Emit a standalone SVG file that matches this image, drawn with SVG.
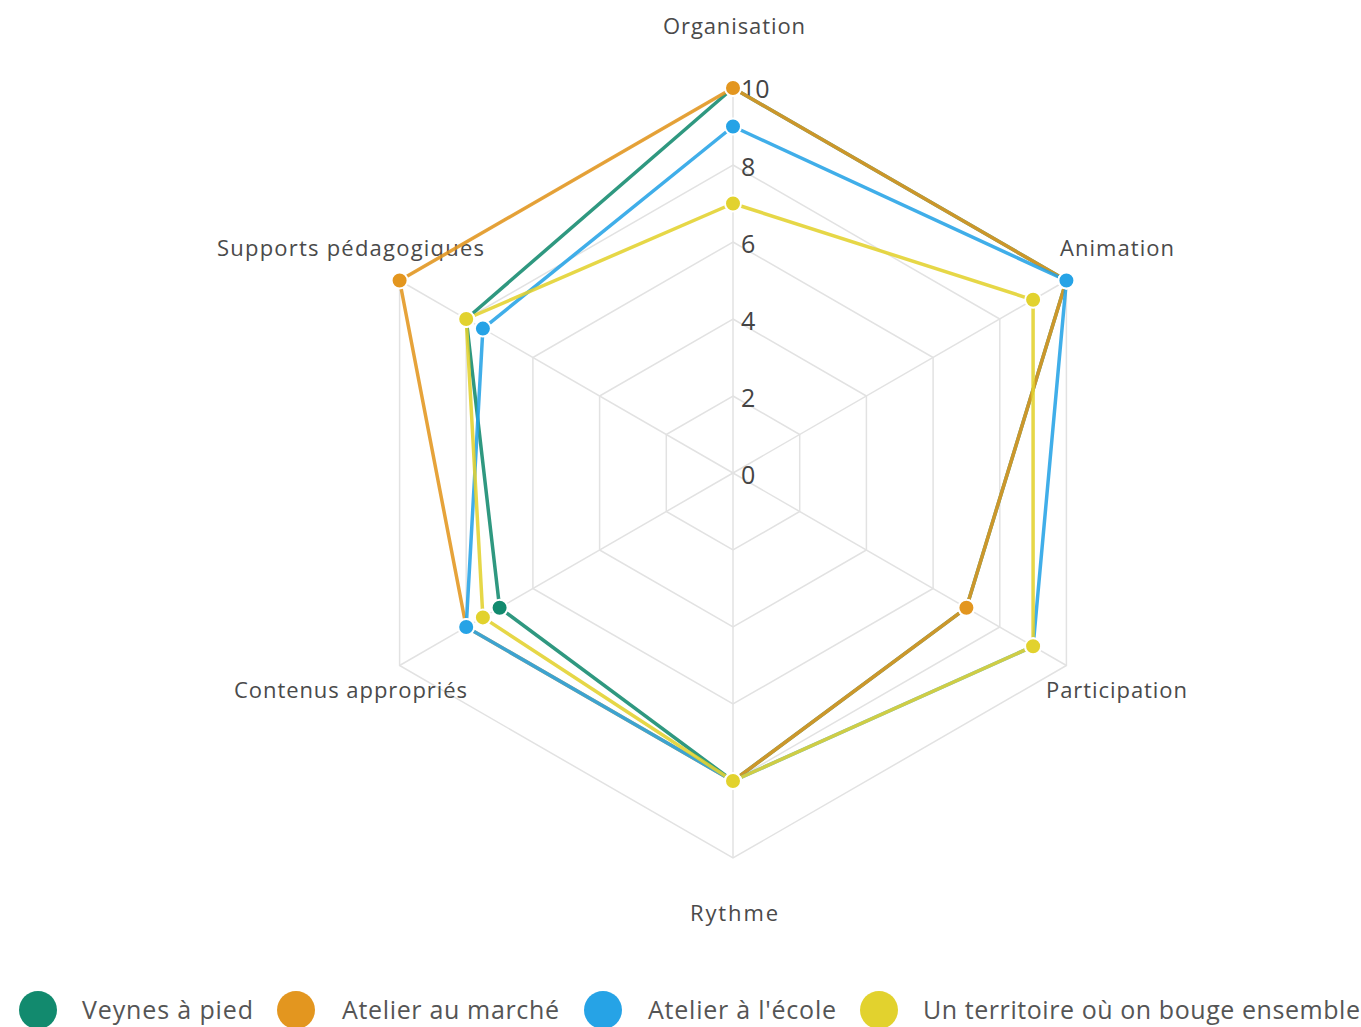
<svg xmlns="http://www.w3.org/2000/svg" width="1361" height="1027" viewBox="0 0 1361 1027">
<style>
.grid{fill:none;stroke:#e2e2e2;stroke-width:1.5}
.axl{font-family:"Open Sans","Liberation Sans",sans-serif;font-size:22px;fill:#4a4a4a}
.tick{font-family:"Open Sans","Liberation Sans",sans-serif;font-size:25px;fill:#444}
.leg{font-family:"Open Sans","Liberation Sans",sans-serif;font-size:25px;fill:#555}
.ser{fill:none;stroke-width:3.5;stroke-opacity:0.88;stroke-linejoin:round}
.pt{stroke:#fff;stroke-width:2}
</style>
<rect width="1361" height="1027" fill="#fff"/>
<g id="grid">
<polygon class="grid" points="733,396 799.7,434.5 799.7,511.5 733,550 666.3,511.5 666.3,434.5"/>
<polygon class="grid" points="733,319 866.4,396 866.4,550 733,627 599.6,550 599.6,396"/>
<polygon class="grid" points="733,242 933.1,357.5 933.1,588.5 733,704 532.9,588.5 532.9,357.5"/>
<polygon class="grid" points="733,165 999.8,319 999.8,627 733,781 466.2,627 466.2,319"/>
<polygon class="grid" points="733,88 1066.4,280.5 1066.4,665.5 733,858 399.6,665.5 399.6,280.5"/>
<line class="grid" x1="733" y1="473" x2="733" y2="88"/>
<line class="grid" x1="733" y1="473" x2="1066.4" y2="280.5"/>
<line class="grid" x1="733" y1="473" x2="1066.4" y2="665.5"/>
<line class="grid" x1="733" y1="473" x2="733" y2="858"/>
<line class="grid" x1="733" y1="473" x2="399.6" y2="665.5"/>
<line class="grid" x1="733" y1="473" x2="399.6" y2="280.5"/>
</g>
<g id="ticks">
<text class="tick" x="741" y="484">0</text>
<text class="tick" x="741" y="407">2</text>
<text class="tick" x="741" y="330">4</text>
<text class="tick" x="741" y="253">6</text>
<text class="tick" x="741" y="176">8</text>
<text class="tick" x="741" y="98">10</text>
</g>
<g id="axis-labels">
<text class="axl" x="663" y="34" textLength="142">Organisation</text>
<text class="axl" x="1060" y="256" textLength="114">Animation</text>
<text class="axl" x="1046" y="698" textLength="141">Participation</text>
<text class="axl" x="690" y="921" textLength="88">Rythme</text>
<text class="axl" x="234" y="698" textLength="233">Contenus appropriés</text>
<text class="axl" x="217" y="256" textLength="267">Supports pédagogiques</text>
</g>
<g id="connectors">
<polygon class="ser" stroke="#128a6e" points="733,88 1066.4,280.5 966.4,607.8 733,781 499.6,607.8 466.2,319"/>
<polygon class="ser" stroke="#e3961f" points="733,88 1066.4,280.5 966.4,607.8 733,781 466.2,627 399.6,280.5"/>
<polygon class="ser" stroke="#26a3e6" points="733,126.5 1066.4,280.5 1033.1,646.3 733,781 466.2,627 482.9,328.6"/>
<polygon class="ser" stroke="#e2d22e" points="733,203.5 1033.1,299.8 1033.1,646.3 733,781 482.9,617.4 466.2,319"/>
</g>
<g id="node-veynes" fill="#128a6e">
<circle class="pt" cx="733" cy="88" r="8"/><circle class="pt" cx="1066.4" cy="280.5" r="8"/><circle class="pt" cx="966.4" cy="607.8" r="8"/><circle class="pt" cx="733" cy="781" r="8"/><circle class="pt" cx="499.6" cy="607.8" r="8"/><circle class="pt" cx="466.2" cy="319" r="8"/>
</g>
<g id="node-marche" fill="#e3961f">
<circle class="pt" cx="733" cy="88" r="8"/><circle class="pt" cx="1066.4" cy="280.5" r="8"/><circle class="pt" cx="966.4" cy="607.8" r="8"/><circle class="pt" cx="733" cy="781" r="8"/><circle class="pt" cx="466.2" cy="627" r="8"/><circle class="pt" cx="399.6" cy="280.5" r="8"/>
</g>
<g id="node-ecole" fill="#26a3e6">
<circle class="pt" cx="733" cy="126.5" r="8"/><circle class="pt" cx="1066.4" cy="280.5" r="8"/><circle class="pt" cx="1033.1" cy="646.3" r="8"/><circle class="pt" cx="733" cy="781" r="8"/><circle class="pt" cx="466.2" cy="627" r="8"/><circle class="pt" cx="482.9" cy="328.6" r="8"/>
</g>
<g id="node-territoire" fill="#e2d22e">
<circle class="pt" cx="733" cy="203.5" r="8"/><circle class="pt" cx="1033.1" cy="299.8" r="8"/><circle class="pt" cx="1033.1" cy="646.3" r="8"/><circle class="pt" cx="733" cy="781" r="8"/><circle class="pt" cx="482.9" cy="617.4" r="8"/><circle class="pt" cx="466.2" cy="319" r="8"/>
</g>
<g id="legend">
<circle cx="38" cy="1010" r="19" fill="#128a6e"/>
<text class="leg" x="82" y="1019" textLength="171">Veynes à pied</text>
<circle cx="296" cy="1010" r="19" fill="#e3961f"/>
<text class="leg" x="342" y="1019" textLength="217">Atelier au marché</text>
<circle cx="603" cy="1010" r="19" fill="#26a3e6"/>
<text class="leg" x="648" y="1019" textLength="188">Atelier à l'école</text>
<circle cx="879" cy="1010" r="19" fill="#e2d22e"/>
<text class="leg" x="923" y="1019" textLength="437">Un territoire où on bouge ensemble</text>
</g>
</svg>
